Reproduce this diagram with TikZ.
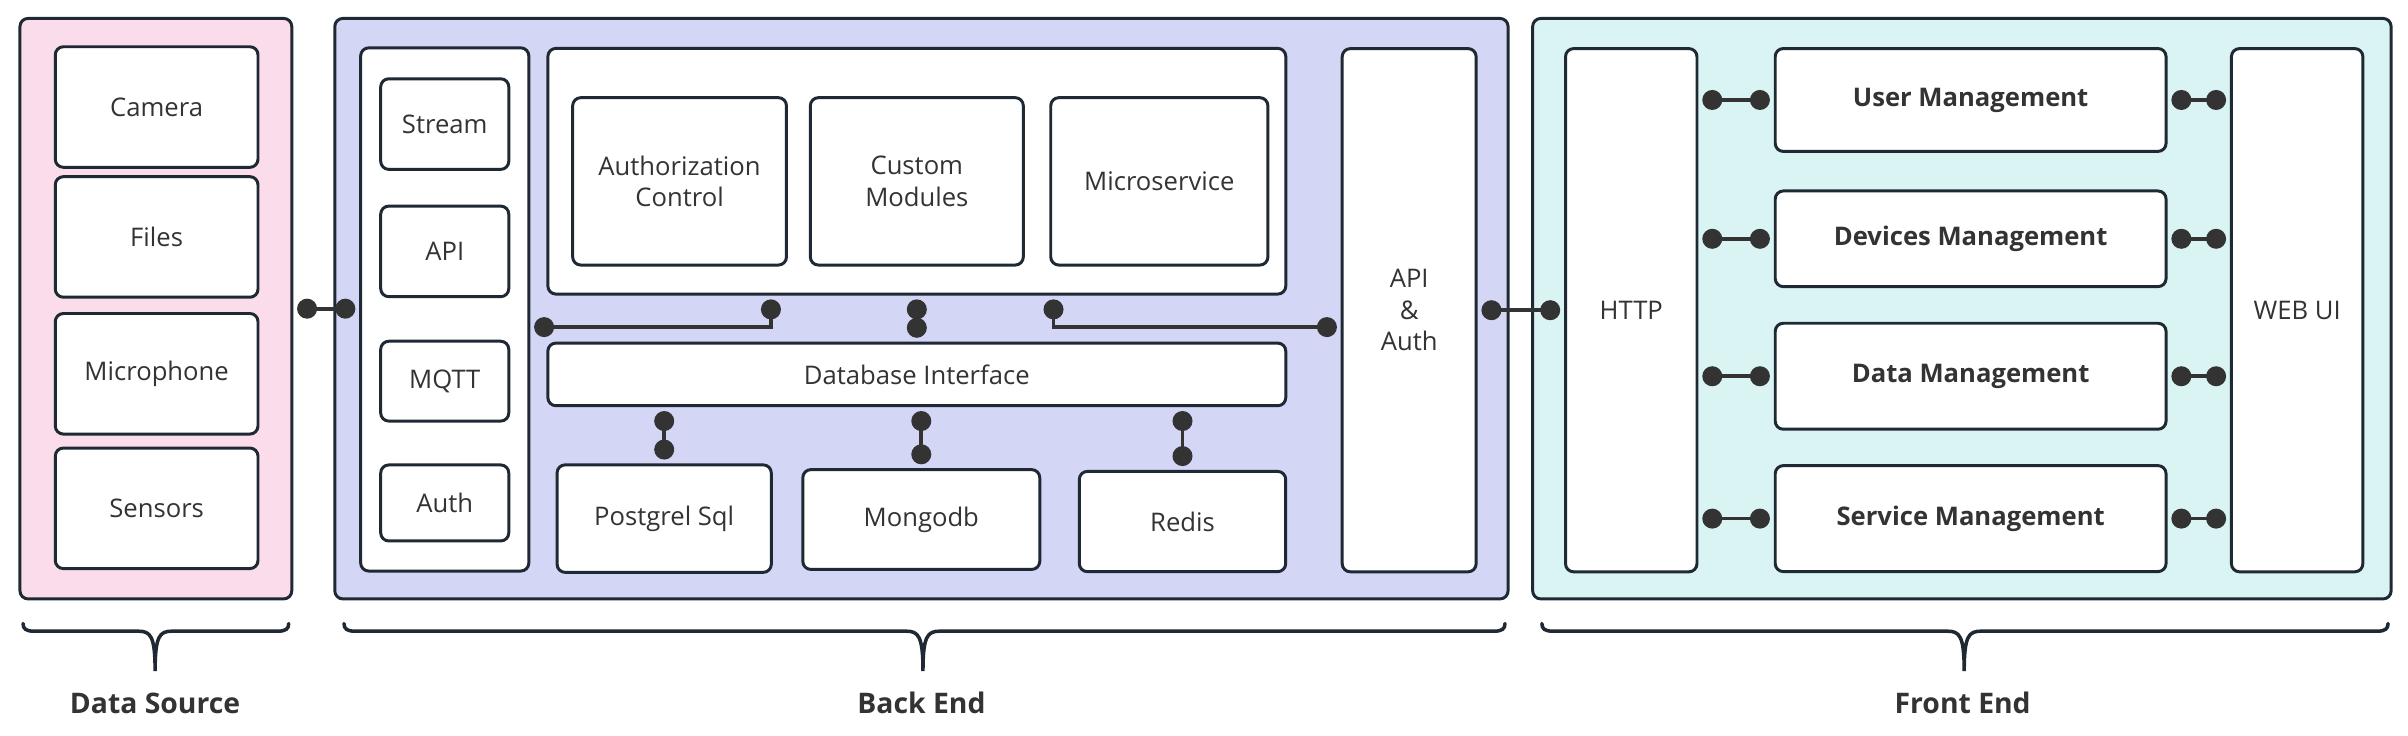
\documentclass[tikz,border=0pt]{standalone}
\usepackage{fontspec}
\setmainfont{Open Sans}
\usetikzlibrary{arrows.meta}

\definecolor{lineDark}{HTML}{1F2933}
\definecolor{dotDark}{HTML}{333333}
\definecolor{textDark}{HTML}{333333}
\definecolor{sourcePink}{HTML}{FADCEA}
\definecolor{backBlue}{HTML}{D4D6F6}
\definecolor{frontCyan}{HTML}{DAF4F3}

\begin{document}
\begin{tikzpicture}
[x=0.02cm,y=-0.02cm,
  groupDecorate/.style={draw=lineDark,line width=1.1pt,rounded corners=3pt,inner sep=0pt},
  boxDecorate/.style={draw=lineDark,fill=white,line width=1.1pt,rounded corners=3pt,inner sep=0pt,
    align=center,text=textDark,font=\fontsize{9.5}{11.6}\selectfont},
  linkDecorate/.style={draw=dotDark,line width=1.4pt,{Circle[length=0.26cm]}-{Circle[length=0.26cm]},
    shorten <=0.05cm,shorten >=0.05cm},
  braceDecorate/.style={draw=lineDark,line width=1.3pt,line cap=round},
  labelDecorate/.style={text=textDark,font=\fontsize{10.5}{13}\selectfont\bfseries}]
\useasboundingbox (0,0) rectangle (1568,479);

%% the three groups
\foreach \nodename/\x/\w/\shade in {
  ds/101.5/177/sourcePink, be/600/764/backBlue, fe/1277.5/559/frontCyan}
{
  \node (\nodename) at (\x,201) [groupDecorate,fill=\shade,
    minimum width=\w*0.02cm,minimum height=378*0.02cm] {};
}

%% data source
\foreach \nodename/\y/\text in {
  camera/69.7/Camera, files/154.3/Files, mic/243.4/Microphone, sensors/331/Sensors}
{
  \node (\nodename) at (102,\y) [boxDecorate,minimum width=132*0.02cm,minimum height=78.5*0.02cm] {\text};
}

%% back end
\foreach \nodename/\x/\y/\w/\h/\text in {
  lcol/289.6/201.5/109.5/340.7/{}, core/597/111.5/480.5/160/{},
  dbi/597/243.8/480.5/40.8/Database Interface, api/917.6/202/87.2/340.7/{API\\\&\\Auth}}
{
  \node (\nodename) at (\x,\y) [boxDecorate,minimum width=\w*0.02cm,minimum height=\h*0.02cm] {\text};
}
\foreach \nodename/\y/\h/\text in {
  stream/80.8/59/Stream, apiin/163.7/59/API, mqtt/248.2/52/MQTT, authin/327.5/49.5/Auth}
{
  \node (\nodename) at (289.6,\y) [boxDecorate,minimum width=83.4*0.02cm,minimum height=\h*0.02cm] {\text};
}
\foreach \nodename/\x/\w/\text in {
  authctl/442.5/139.2/{Authorization\\Control}, custom/597/138.7/{Custom\\Modules},
  micro/754.9/141.4/Microservice}
{
  \node (\nodename) at (\x,118.1) [boxDecorate,minimum width=\w*0.02cm,minimum height=109*0.02cm] {\text};
}
\foreach \nodename/\x/\y/\w/\h/\text in {
  pgsql/432.5/337.7/139.5/70/Postgrel Sql, mongo/599.9/338.3/154.3/65/Mongodb,
  redis/770/339.6/134.4/65.3/Redis}
{
  \node (\nodename) at (\x,\y) [boxDecorate,minimum width=\w*0.02cm,minimum height=\h*0.02cm] {\text};
}

%% front end
\foreach \nodename/\x/\text in {http/1062.2/HTTP, webui/1495.8/WEB UI}
{
  \node (\nodename) at (\x,202) [boxDecorate,minimum width=85.6*0.02cm,minimum height=340.7*0.02cm] {\text};
}
\foreach \nodename/\y/\h/\text in {
  user/65.1/67/User Management, devices/155.5/62.3/Devices Management,
  data/245/69/Data Management, service/337.7/69/Service Management}
{
  \node (\nodename) at (1283.2,\y) [boxDecorate,font=\fontsize{9.5}{11.6}\selectfont\bfseries,
    minimum width=254.5*0.02cm,minimum height=\h*0.02cm] {\text};
}

%% links
\coordinate (bendA) at (502,213);
\coordinate (bendB) at (686,213);
\draw[linkDecorate] (ds.east) -- (ds.east -| lcol.west);
\draw[linkDecorate] (bendA -| lcol.east) -| (bendA |- core.south);
\draw[linkDecorate] (core.south) -- (dbi.north);
\draw[linkDecorate] (bendB |- core.south) |- (bendB -| api.west);
\foreach \nodename in {pgsql, mongo, redis}
{
  \draw[linkDecorate] (dbi.south -| \nodename.north) -- (\nodename.north);
}
\draw[linkDecorate] (api.east) -- (api.east -| http.west);
\foreach \nodename in {user, devices, data, service}
{
  \draw[linkDecorate] (\nodename.west -| http.east) -- (\nodename.west);
  \draw[linkDecorate] (\nodename.east) -- (\nodename.east -| webui.west);
}

%% braces and group names
\foreach \l/\m/\r in {15/101/188, 224/601/980, 1004/1279/1555}
{
  \draw[braceDecorate] (\l,406) .. controls (\l,409.5) and ({\l+2},411) .. ({\l+7},411)
    -- ({\m-11},411) .. controls ({\m-3},411) and (\m,414) .. (\m,437)
    .. controls (\m,414) and ({\m+3},411) .. ({\m+11},411)
    -- ({\r-7},411) .. controls ({\r-2},411) and (\r,409.5) .. (\r,406);
}
\foreach \nodename/\x/\text in {dsName/101/Data Source, beName/600/Back End, feName/1278/Front End}
{
  \node (\nodename) at (\x,458) [labelDecorate] {\text};
}
\end{tikzpicture}
\end{document}
